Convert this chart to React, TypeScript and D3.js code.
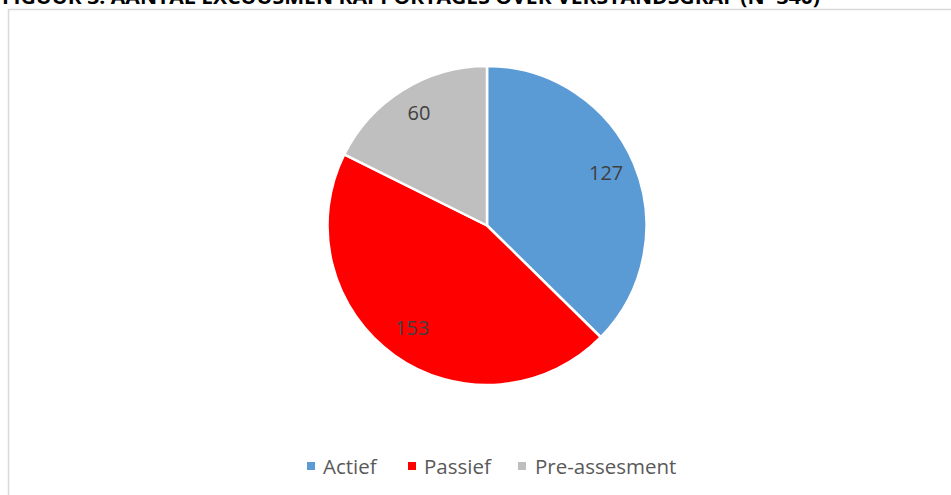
import React from "react";
import * as d3 from "d3";

const categories = ["Actief", "Passief", "Pre-assesment"];
const values = [127, 153, 60];
const colors = ["#5B9BD5", "#FF0000", "#BFBFBF"];
const title = "FIGUUR 3: AANTAL EXCUUSMEN RAPPORTAGES OVER VERSTANDSGRAF (N=340)";

const W = 951;
const H = 495;

export default function App() {
  const cx = 487;
  const cy = 225.5;
  const R = 159.5;
  const data = categories.map((c, i) => ({ c, v: values[i], color: colors[i] }));
  const pie = d3.pie<any>().value((d: any) => d.v).sort(null);
  const arcs = pie(data);
  const arc = d3.arc<any>().innerRadius(0).outerRadius(R);
  const labelArc = d3.arc<any>().innerRadius(R * 0.81).outerRadius(R * 0.81);

  const legendY = 466;
  const legendItems = [
    { x: 307, tx: 323 },
    { x: 408, tx: 424 },
    { x: 518, tx: 535 },
  ];

  return (
    <svg
      width={W}
      height={H}
      style={{ position: "absolute", left: 0, top: 0, background: "#fff" }}
      fontFamily="'Open Sans', sans-serif"
    >
      <text
        x={2}
        y={4}
        fontSize={19}
        fontWeight="bold"
        fill="#000"
        textLength={818}
        lengthAdjust="spacingAndGlyphs"
        fontFamily="'Open Sans', sans-serif"
      >
        {title}
      </text>
      <rect x={8.5} y={9.5} width={960} height={500} fill="#fff" stroke="#d9d9d9" strokeWidth={1.5} />
      <g transform={`translate(${cx},${cy})`}>
        {arcs.map((a, i) => (
          <path key={i} d={arc(a) as string} fill={a.data.color} stroke="#fff" strokeWidth={2.5} strokeLinejoin="round" />
        ))}
        {arcs.map((a, i) => {
          const [lx, ly] = labelArc.centroid(a);
          return (
            <text
              key={"l" + i}
              x={lx}
              y={ly - 3}
              textAnchor="middle"
              dominantBaseline="central"
              fontSize={20}
              fill="#404040"
            >
              {a.data.v}
            </text>
          );
        })}
      </g>
      {data.map((d, i) => (
        <g key={"lg" + i}>
          <rect x={legendItems[i].x} y={legendY - 4} width={8} height={8} fill={d.color} />
          <text x={legendItems[i].tx} y={legendY} dominantBaseline="central" fontSize={20.5} fill="#595959">
            {d.c}
          </text>
        </g>
      ))}
    </svg>
  );
}
